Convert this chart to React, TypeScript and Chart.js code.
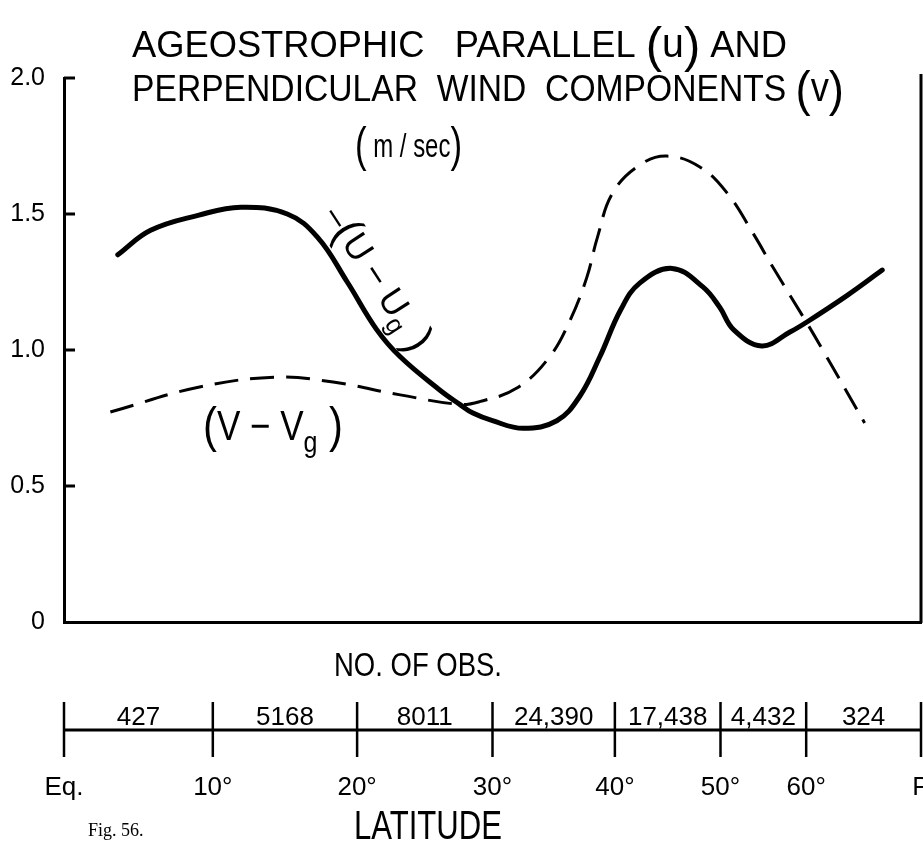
import React, { useEffect, useRef } from "react";
import { Chart, registerables } from "chart.js";

Chart.register(...registerables);

// Solid curve (u - ug): latitude (deg) and value (m/sec)
const uLat = [3.6, 5.8, 9.0, 11.9, 15.1, 17.2, 19.3, 21.4, 23.1, 26.0, 27.5, 28.5, 30.0, 32.4, 35.1, 37.0, 38.7, 40.5, 42.2, 45.2, 48.2, 49.9, 51.4, 54.5, 57.9, 60.1, 66.0, 72.7];
const uVal = [1.35, 1.44, 1.495, 1.525, 1.5, 1.415, 1.25, 1.075, 0.975, 0.853, 0.8, 0.768, 0.74, 0.712, 0.74, 0.83, 0.975, 1.147, 1.246, 1.3, 1.232, 1.158, 1.074, 1.015, 1.066, 1.103, 1.2, 1.294];

// Dashed curve (v - vg)
const vLat = [3.1, 9.1, 14.4, 18.3, 23.1, 27.5, 29.0, 31.9, 34.5, 36.2, 37.6, 38.5, 39.8, 42.2, 44.7, 47.9, 50.7, 53.5, 55.8, 60.1, 62.3, 69.1];
const vVal = [0.772, 0.864, 0.9, 0.882, 0.835, 0.8, 0.81, 0.86, 0.974, 1.11, 1.268, 1.415, 1.577, 1.68, 1.713, 1.673, 1.577, 1.43, 1.305, 1.099, 1.0, 0.732];

// Lower latitude scale
const latBounds = [0, 10, 20, 30, 40, 50, 60, 90];
const latLabels = ["Eq.", "10°", "20°", "30°", "40°", "50°", "60°", "P"];
const obsCounts = ["427", "5168", "8011", "24,390", "17,438", "4,432", "324"];

const yTicks = [0, 0.5, 1.0, 1.5, 2.0];

const FONT = '"Liberation Sans", Arial, sans-serif';
const toSin = (lat: number) => Math.sin((lat * Math.PI) / 180);

type Seg = { t: string; size: number; dy?: number };

function drawRich(
  ctx: CanvasRenderingContext2D,
  segs: Seg[],
  x: number,
  y: number,
  targetWidth: number | null,
  align: "left" | "center" = "left"
) {
  let w = 0;
  const widths: number[] = [];
  for (const s of segs) {
    ctx.font = `${s.size}px ${FONT}`;
    const mw = ctx.measureText(s.t).width;
    widths.push(mw);
    w += mw;
  }
  const sx = targetWidth ? targetWidth / w : 1;
  ctx.save();
  ctx.translate(x, y);
  ctx.scale(sx, 1);
  let cx = align === "center" ? -w / 2 : 0;
  ctx.textAlign = "left";
  ctx.textBaseline = "alphabetic";
  segs.forEach((s, i) => {
    ctx.font = `${s.size}px ${FONT}`;
    ctx.fillText(s.t, cx, s.dy || 0);
    cx += widths[i];
  });
  ctx.restore();
}

const decorPlugin = {
  id: "decor",
  afterDraw(chart: any) {
    const ctx: CanvasRenderingContext2D = chart.ctx;
    const xs = chart.scales.x;
    const ys = chart.scales.y;
    const area = chart.chartArea;
    ctx.save();
    ctx.fillStyle = "#000";
    ctx.strokeStyle = "#000";

    // right frame line
    ctx.lineWidth = 3;
    ctx.beginPath();
    ctx.moveTo(area.right, ys.getPixelForValue(2.0) - 4);
    ctx.lineTo(area.right, ys.getPixelForValue(0) + 1);
    ctx.stroke();

    // inward y ticks
    ctx.lineWidth = 3;
    for (const v of yTicks) {
      const py = ys.getPixelForValue(v);
      if (v === 0) continue;
      ctx.beginPath();
      ctx.moveTo(area.left, py);
      ctx.lineTo(area.left + 11, py);
      ctx.stroke();
    }

    // title
    drawRich(
      ctx,
      [
        { t: "AGEOSTROPHIC   PARALLEL ", size: 37 },
        { t: "(", size: 50, dy: 5 },
        { t: "u", size: 40 },
        { t: ")", size: 50, dy: 5 },
        { t: " AND", size: 37 },
      ],
      132,
      57,
      655
    );
    drawRich(
      ctx,
      [
        { t: "PERPENDICULAR  WIND  COMPONENTS ", size: 37 },
        { t: "(", size: 50, dy: 5 },
        { t: "v", size: 40 },
        { t: ")", size: 50, dy: 5 },
      ],
      132,
      101,
      712
    );
    drawRich(
      ctx,
      [
        { t: "(", size: 48, dy: 4 },
        { t: " m / sec", size: 33 },
        { t: ")", size: 48, dy: 4 },
      ],
      355,
      157,
      107
    );

    // curve labels
    drawRich(
      ctx,
      [
        { t: "(", size: 50, dy: 2 },
        { t: "V − V", size: 42 },
        { t: "g", size: 30, dy: 12 },
        { t: " )", size: 50, dy: 2 },
      ],
      203,
      440,
      140
    );
    ctx.save();
    ctx.translate(378, 278);
    ctx.rotate((57 * Math.PI) / 180);
    drawRich(
      ctx,
      [
        { t: "–", size: 34 },
        { t: "(", size: 44, dy: 2 },
        { t: "U − U", size: 36 },
        { t: "g", size: 26, dy: 8 },
        { t: " )", size: 44, dy: 2 },
      ],
      0,
      12,
      165,
      "center"
    );
    ctx.restore();

    // lower scale: number of observations
    const px = (lat: number) => xs.getPixelForValue(toSin(lat));
    const lineY = 730;
    ctx.lineWidth = 3;
    ctx.beginPath();
    ctx.moveTo(px(0), lineY);
    ctx.lineTo(px(90), lineY);
    ctx.stroke();
    ctx.lineWidth = 2.5;
    for (const b of latBounds) {
      ctx.beginPath();
      ctx.moveTo(px(b), 702);
      ctx.lineTo(px(b), 757);
      ctx.stroke();
    }
    ctx.textAlign = "center";
    ctx.textBaseline = "alphabetic";
    ctx.font = `26px ${FONT}`;
    for (let i = 0; i < obsCounts.length; i++) {
      const cx = (px(latBounds[i]) + px(latBounds[i + 1])) / 2;
      ctx.fillText(obsCounts[i], cx, 725);
    }
    ctx.font = `26px ${FONT}`;
    latBounds.forEach((b, i) => {
      ctx.fillText(latLabels[i], px(b), 795);
    });

    drawRich(ctx, [{ t: "NO. OF OBS.", size: 34 }], 418, 676, 168, "center");
    drawRich(ctx, [{ t: "LATITUDE", size: 40 }], 428, 839, 148, "center");

    ctx.font = `18px "Liberation Serif", "DejaVu Serif", serif`;
    ctx.textAlign = "left";
    ctx.fillText("Fig. 56.", 88, 836);

    ctx.restore();
  },
};

export default function App() {
  const ref = useRef<HTMLCanvasElement | null>(null);
  useEffect(() => {
    if (!ref.current) return;
    const chart = new Chart(ref.current, {
      type: "line",
      data: {
        datasets: [
          {
            label: "(u - ug)",
            data: uLat.map((lat, i) => ({ x: toSin(lat), y: uVal[i] })),
            borderColor: "#000",
            borderWidth: 5,
            pointRadius: 0,
            tension: 0.4,
            borderCapStyle: "round",
            borderJoinStyle: "round",
            fill: false,
          },
          {
            label: "(v - vg)",
            data: vLat.map((lat, i) => ({ x: toSin(lat), y: vVal[i] })),
            borderColor: "#000",
            borderWidth: 3,
            borderDash: [24, 12],
            pointRadius: 0,
            tension: 0.4,
            fill: false,
          },
        ],
      },
      options: {
        animation: false,
        responsive: false,
        maintainAspectRatio: false,
        layout: { padding: { left: 0, right: 2, top: 78, bottom: 220 } },
        plugins: {
          legend: { display: false },
          title: { display: false },
          tooltip: { enabled: false },
        },
        scales: {
          x: {
            type: "linear",
            min: 0,
            max: 1,
            grid: { display: false },
            ticks: { display: false },
            border: { display: true, color: "#000", width: 3 },
            afterFit: (s: any) => {
              s.height = 0;
            },
          },
          y: {
            type: "linear",
            min: 0,
            max: 2,
            afterBuildTicks: (s: any) => {
              s.ticks = yTicks.map((v) => ({ value: v }));
            },
            ticks: {
              color: "#000",
              font: { family: FONT, size: 25 },
              padding: 11,
              callback: (v: any) => (Number(v) === 0 ? "0" : Number(v).toFixed(1)),
            },
            grid: { display: false },
            border: { display: true, color: "#000", width: 3 },
            afterFit: (s: any) => {
              s.width = 64;
            },
          },
        },
      },
      plugins: [decorPlugin],
    });
    return () => chart.destroy();
  }, []);
  return (
    <div style={{ position: "fixed", left: 0, top: 0, width: 923, height: 842, background: "#fff" }}>
      <canvas ref={ref} width={923} height={842} style={{ width: 923, height: 842, display: "block" }} />
    </div>
  );
}
